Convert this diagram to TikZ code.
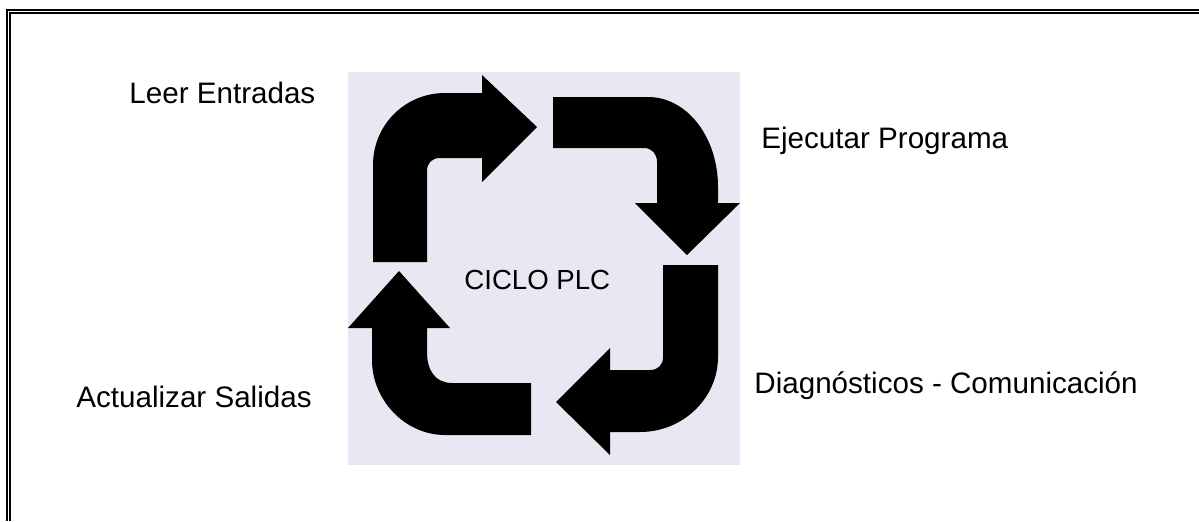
\documentclass[tikz,border=0pt]{standalone}
\usepackage{fontspec}
\setmainfont{Liberation Sans}
\definecolor{bgtex}{RGB}{232,232,242}
\begin{document}
\begin{tikzpicture}[x=0.5pt,y=-0.5pt,
  frameline/.style={line width=1pt,draw=black},
  cyclearrow/.style={fill=black,draw=none},
  lbl/.style={anchor=base west,inner sep=0pt,font=\fontsize{14.8}{17}\selectfont,text=black}]
\useasboundingbox (0,0) rectangle (1199,521);
% frame (double line, clipped at right and bottom)
\draw[frameline] (7,521) -- (7,10) -- (1199,10);
\draw[frameline] (10,521) -- (10,13) -- (1199,13);
% textured background square
\fill[bgtex] (348,72) rectangle (740,465);
% arrow 1: Leer Entradas (top-left, points right)
\fill[cyclearrow] (373,262) -- (373,165) .. controls (373,125) and (405,93) .. (445,93)
  -- (482,93) -- (482,75) -- (537,127) -- (482,182) -- (482,158) -- (440,158)
  .. controls (432,158) and (427,163) .. (427,171) -- (427,262) -- cycle;
% arrow 2: Ejecutar Programa (top-right, points down)
\fill[cyclearrow] (553,97) -- (648,97) .. controls (687,97) and (718,137) .. (718,187)
  -- (718,203) -- (740,203) -- (687,255) -- (635,203) -- (657,203) -- (657,162)
  .. controls (657,154) and (652,148) .. (644,148) -- (553,148) -- cycle;
% arrow 3: Diagnosticos (bottom-right, points left)
\fill[cyclearrow] (663,265) -- (718,265) -- (718,357) .. controls (718,398) and (683,432) .. (640,432)
  -- (610,432) -- (610,455) -- (556,402) -- (610,348) -- (610,370) -- (650,370)
  .. controls (658,370) and (663,365) .. (663,357) -- cycle;
% arrow 4: Actualizar Salidas (bottom-left, points up)
\fill[cyclearrow] (531,383) -- (531,435) -- (445,435) .. controls (405,435) and (372,400) .. (372,360)
  -- (372,328) -- (348,328) -- (399,271) -- (450,328) -- (427,328) -- (427,352)
  .. controls (427,370) and (435,383) .. (452,383) -- cycle;
% labels
\node[lbl] (leer) at (129,103) {Leer Entradas};
\node[lbl] (ejec) at (761,148) {Ejecutar Programa};
\node[lbl,font=\fontsize{13.8}{17}\selectfont] (ciclo) at (464,289) {CICLO PLC};
\node[lbl] (diag) at (754,393) {Diagnósticos - Comunicación};
\node[lbl] (act) at (76,407) {Actualizar Salidas};
\end{tikzpicture}
\end{document}
